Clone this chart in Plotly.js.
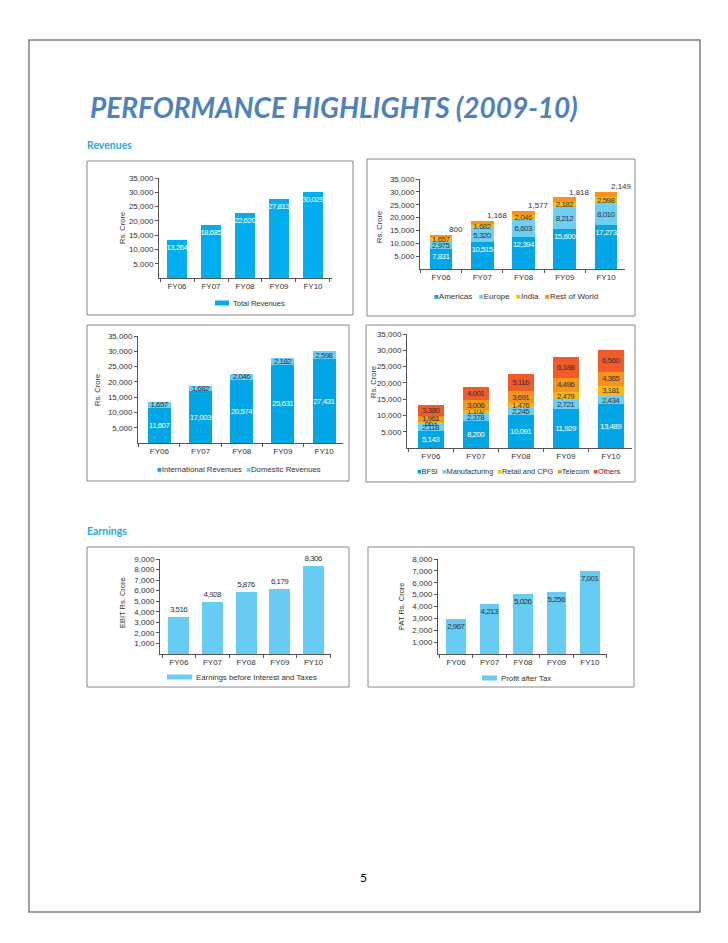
<!DOCTYPE html>
<html><head><meta charset="utf-8">
<script src="https://cdn.plot.ly/plotly-3.0.1.min.js"></script>
<style>
html,body{margin:0;padding:0;background:#fff}
#chart{width:728px;height:943px}
#chart text.bartext{letter-spacing:-0.55px}
</style>
</head><body><div id="chart"></div>
<script>
// ---------------- data ----------------
const years = ['FY06', 'FY07', 'FY08', 'FY09', 'FY10'];
const totalRevenues = [13264, 18685, 22620, 27813, 30029];
const geoAmericas = [7831, 10515, 12394, 15600, 17273];
const geoEurope = [2975, 5320, 6603, 8212, 8010];
const geoIndia = [1657, 1682, 2046, 2182, 2598];
const geoRestOfWorld = [800, 1168, 1577, 1818, 2149];
const internationalRevenues = [11607, 17003, 20574, 25631, 27431];
const domesticRevenues = [1657, 1682, 2046, 2182, 2598];
const segBFSI = [5143, 8200, 10091, 11929, 13489];
const segManufacturing = [2118, 2378, 2245, 2721, 2434];
const segRetailCPG = [663, 1102, 1476, 2479, 3181];
const segTelecom = [1961, 3006, 3691, 4496, 4365];
const segOthers = [3380, 4001, 5116, 6188, 6560];
const ebit = [3516, 4928, 5876, 6179, 8306];
const pat = [2967, 4213, 5026, 5256, 7001];
const revenueTicks = [5000, 10000, 15000, 20000, 25000, 30000, 35000];
const ebitTicks = [1000, 2000, 3000, 4000, 5000, 6000, 7000, 8000, 9000];
const patTicks = [1000, 2000, 3000, 4000, 5000, 6000, 7000, 8000];

// ---------------- helpers ----------------
const W = 728, H = 943;
const X = p => p / W, Y = p => 1 - p / H;
const fmt = v => v.toLocaleString('en-US');
const NARROW = '"Liberation Sans Narrow", "Liberation Sans", Arial, sans-serif';
const FS = 8;
const AXC = '#555555';
const DARK = '#333333';
const C_BLUE = '#00A6E6', C_TOTAL = '#00AEEF', C_LIGHT = '#6DCFF6', C_YELLOW = '#FDB913',
      C_ORANGE = '#F7941D', C_RED = '#F15A29', C_EARN = '#66CCF4';

function xAxis(x0, x1, r0, r1, anchor) {
  return {domain: [X(x0), X(x1)], range: [r0, r1], anchor: anchor, type: 'category',
    showline: true, linecolor: AXC, linewidth: 1, ticks: 'outside', tickson: 'boundaries',
    ticklen: 3, tickcolor: AXC, showgrid: false, zeroline: false, fixedrange: true,
    tickfont: {family: NARROW, size: FS, color: DARK}};
}
function yAxis(top, bottom, max, ticks, anchor) {
  return {domain: [Y(bottom), Y(top)], range: [0, max], anchor: anchor,
    showline: true, linecolor: AXC, linewidth: 1, ticks: 'outside', ticklen: 3, tickcolor: AXC,
    tickvals: ticks, ticktext: ticks.map(fmt), showgrid: false, zeroline: false, fixedrange: true,
    tickfont: {family: NARROW, size: FS, color: DARK}};
}
function bar(n, name, values, color, width, textPos, anchor, tcolor) {
  const t = {type: 'bar', x: years, y: values, name: name,
    xaxis: n === 1 ? 'x' : 'x' + n, yaxis: n === 1 ? 'y' : 'y' + n,
    marker: {color: color, line: {width: 0}}, width: width, hoverinfo: 'skip',
    showlegend: false, cliponaxis: false, constraintext: 'none', textangle: 0};
  if (textPos) {
    t.text = values.map(fmt);
    t.textposition = textPos;
    if (anchor) t.insidetextanchor = anchor;
    t.textfont = {family: NARROW, size: FS, color: tcolor};
  } else {
    t.textposition = 'none';
  }
  return t;
}

// ---------------- traces ----------------
const data = [
  bar(1, 'Total Revenues', totalRevenues, C_TOTAL, 0.59, 'inside', 'end', '#ffffff'),

  bar(2, 'Americas', geoAmericas, C_BLUE, 0.55, 'inside', 'end', '#ffffff'),
  bar(2, 'Europe', geoEurope, C_LIGHT, 0.55, 'inside', 'middle', DARK),
  bar(2, 'India', geoIndia, C_YELLOW, 0.55, 'inside', 'middle', DARK),
  bar(2, 'Rest of World', geoRestOfWorld, C_ORANGE, 0.55, null),

  bar(3, 'International Revenues', internationalRevenues, C_BLUE, 0.56, 'inside', 'middle', '#ffffff'),
  bar(3, 'Domestic Revenues', domesticRevenues, C_LIGHT, 0.56, 'inside', 'middle', DARK),

  bar(4, 'BFSI', segBFSI, C_BLUE, 0.58, 'inside', 'middle', '#ffffff'),
  bar(4, 'Manufacturing', segManufacturing, C_LIGHT, 0.58, 'inside', 'middle', DARK),
  bar(4, 'Retail and CPG', segRetailCPG, C_YELLOW, 0.58, 'inside', 'middle', DARK),
  bar(4, 'Telecom', segTelecom, C_ORANGE, 0.58, 'inside', 'middle', DARK),
  bar(4, 'Others', segOthers, C_RED, 0.58, 'inside', 'middle', DARK),

  bar(5, 'Earnings before Interest and Taxes', ebit, C_EARN, 0.62, 'outside', null, DARK),
  bar(6, 'Profit after Tax', pat, C_EARN, 0.58, 'inside', 'end', DARK)
];

// ---------------- annotations & shapes ----------------
const ann = [];
const shapes = [];
function txt(x, y, text, size, opts) {
  ann.push(Object.assign({xref: 'paper', yref: 'paper', x: X(x), y: Y(y), text: text,
    showarrow: false, xanchor: 'center', yanchor: 'middle',
    font: {family: NARROW, size: size, color: DARK}}, opts || {}));
}
function box(x0, y0, x1, y1) {
  shapes.push({type: 'rect', xref: 'paper', yref: 'paper', x0: X(x0), x1: X(x1), y0: Y(y1), y1: Y(y0),
    line: {color: '#8a8a8a', width: 1}, fillcolor: 'rgba(0,0,0,0)', layer: 'below'});
}
function swatch(x0, x1, yc, h, color) {
  shapes.push({type: 'rect', xref: 'paper', yref: 'paper', x0: X(x0), x1: X(x1),
    y0: Y(yc + h / 2), y1: Y(yc - h / 2), line: {width: 0}, fillcolor: color});
}
function glyphLegend(items, gap) {
  return items.map(([name, color]) => '<span style="color:' + color + '">\u25A0</span>' + name)
    .join(gap);
}

// page frame
shapes.push({type: 'rect', xref: 'paper', yref: 'paper', x0: X(29), x1: X(700), y0: Y(912), y1: Y(40),
  line: {color: '#7f7f7f', width: 1.5}, fillcolor: 'rgba(0,0,0,0)', layer: 'below'});

// headings
const HEADFONT = 'Lato, "Open Sans", sans-serif';
txt(88, 107, 'PERFORMANCE HIGHLIGHTS (2009-10)', 28,
  {xanchor: 'left', font: {family: HEADFONT, size: 28, color: '#4F81BD', style: 'italic', weight: 700}});
txt(85, 145, 'Revenues', 10.5,
  {xanchor: 'left', font: {family: HEADFONT, size: 10.5, color: '#29A9E0', weight: 700}});
txt(85, 531, 'Earnings', 10.5,
  {xanchor: 'left', font: {family: HEADFONT, size: 10.5, color: '#29A9E0', weight: 700}});
txt(363, 877, '5', 12, {font: {family: HEADFONT, size: 12, color: '#000000'}});

// chart boxes
box(87, 161, 353, 315);
box(367, 159, 635, 316);
box(87, 325, 349, 481);
box(366, 325, 635, 482);
box(87, 547, 349, 687);
box(368, 547, 634, 687);

// y-axis titles
txt(122, 228, 'Rs. Crore', 7.5, {textangle: -90});
txt(379, 227, 'Rs. Crore', 7.5, {textangle: -90});
txt(97, 390, 'Rs. Crore', 7.5, {textangle: -90});
txt(373, 382, 'Rs. Crore', 7.5, {textangle: -90});
txt(122, 602, 'EBIT Rs. Crore', 7.5, {textangle: -90});
txt(401, 606, 'PAT Rs. Crore', 7.5, {textangle: -90});

// legends
const NB2 = '\u00A0\u00A0', NB3 = '\u00A0\u00A0\u00A0';
swatch(215, 229, 303, 5, C_TOTAL);
txt(231, 303, 'Total Revenues', 7.5, {xanchor: 'left'});
txt(516, 297, glyphLegend([['Americas', C_BLUE], ['Europe', C_LIGHT], ['India', C_YELLOW], ['Rest of World', C_ORANGE]], NB3), 8);
txt(239, 469, glyphLegend([['International Revenues', C_BLUE], ['Domestic Revenues', C_LIGHT]], NB2), 7.8);
txt(518, 471, glyphLegend([['BFSI', C_BLUE], ['Manufacturing', C_LIGHT], ['Retail and CPG', C_YELLOW], ['Telecom', C_ORANGE], ['Others', C_RED]], NB2), 7.4);
swatch(167, 192, 677, 5, C_EARN);
txt(194, 677, 'Earnings before Interest and Taxes', 7.8, {xanchor: 'left'});
swatch(482, 497, 678, 5, C_EARN);
txt(499, 678, 'Profit after Tax', 7.8, {xanchor: 'left'});

// Rest of World labels above the stacks (placed at each stack top)
years.forEach((yr, i) => {
  const top = geoAmericas[i] + geoEurope[i] + geoIndia[i] + geoRestOfWorld[i];
  ann.push({xref: 'x2', yref: 'y2', x: yr, y: top, text: fmt(geoRestOfWorld[i]), showarrow: false,
    xanchor: 'center', yanchor: 'middle', xshift: 15, yshift: 5,
    font: {family: NARROW, size: FS, color: DARK}});
});

const layout = {
  width: W, height: H, margin: {l: 0, r: 0, t: 0, b: 0},
  paper_bgcolor: '#ffffff', plot_bgcolor: 'rgba(0,0,0,0)',
  barmode: 'stack', showlegend: false,
  xaxis: xAxis(159, 332, -0.53, 4.56, 'y'),
  yaxis: yAxis(178, 278, 35000, revenueTicks, 'x'),
  xaxis2: xAxis(420, 625, -0.51, 4.46, 'y2'),
  yaxis2: yAxis(179, 269, 35000, revenueTicks, 'x2'),
  xaxis3: xAxis(138, 343, -0.52, 4.46, 'y3'),
  yaxis3: yAxis(336, 443, 35000, revenueTicks, 'x3'),
  xaxis4: xAxis(407, 632, -0.53, 4.47, 'y4'),
  yaxis4: yAxis(334, 448, 35000, revenueTicks, 'x4'),
  xaxis5: xAxis(160, 331, -0.56, 4.52, 'y5'),
  yaxis5: yAxis(559, 654, 9000, ebitTicks, 'x5'),
  xaxis6: xAxis(438, 607, -0.54, 4.51, 'y6'),
  yaxis6: yAxis(559, 654, 8000, patTicks, 'x6'),
  annotations: ann,
  shapes: shapes
};

Plotly.newPlot('chart', data, layout, {staticPlot: true, displayModeBar: false});
</script>
</body></html>
